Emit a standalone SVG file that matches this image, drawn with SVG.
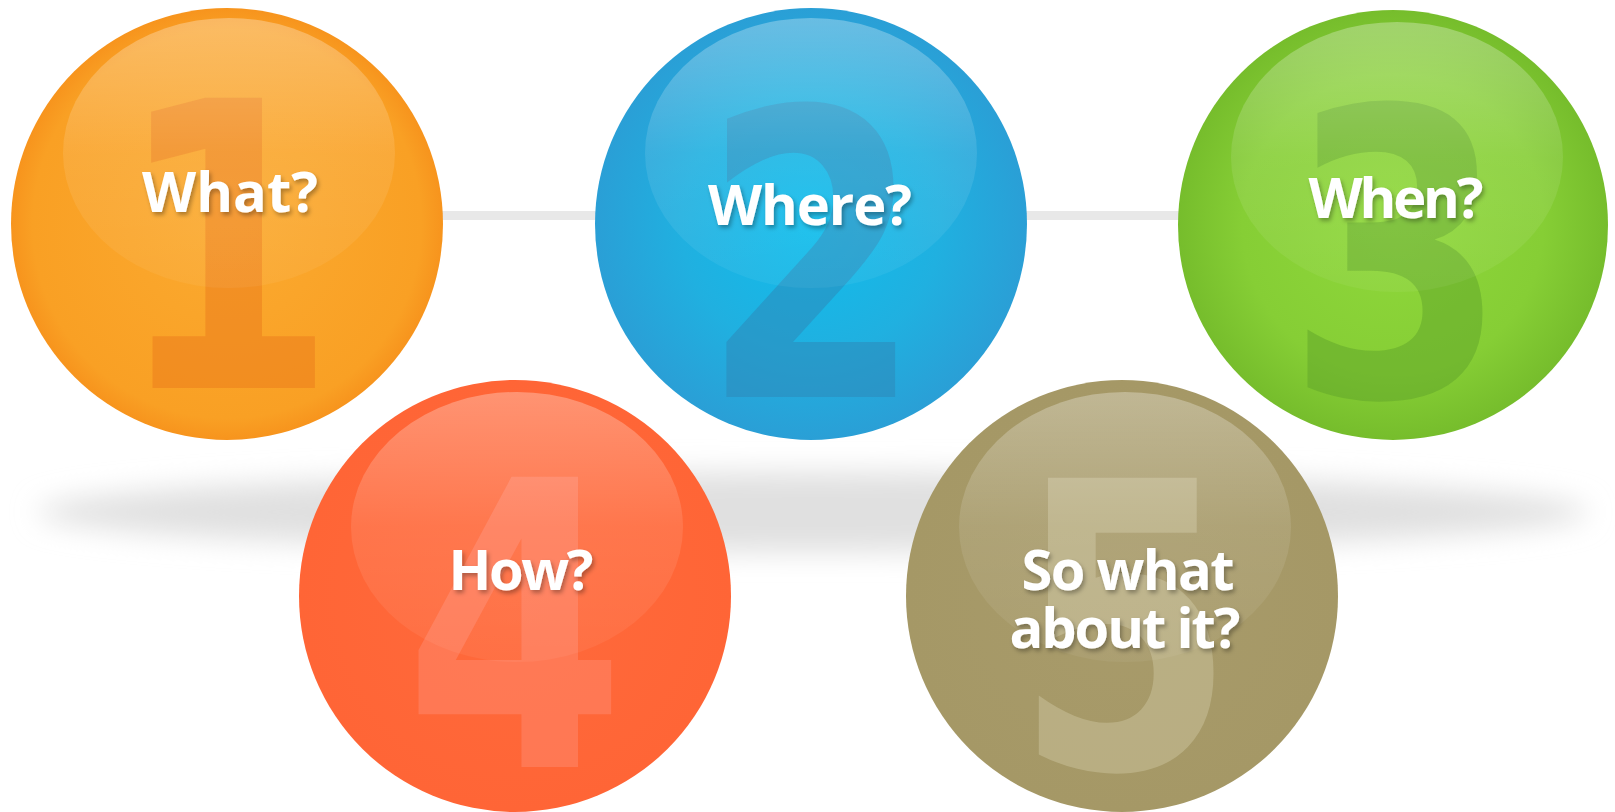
<svg xmlns="http://www.w3.org/2000/svg" width="1615" height="812" viewBox="0 0 1615 812">
<defs>
<filter id="blur" x="-10%" y="-100%" width="120%" height="300%"><feGaussianBlur stdDeviation="14"/></filter>
<filter id="tshadow" x="-20%" y="-40%" width="140%" height="180%"><feDropShadow dx="2" dy="3" stdDeviation="2" flood-color="#000" flood-opacity="0.3"/></filter>
<radialGradient id="gOrange" cx="0.5" cy="0.5" r="0.5"><stop offset="0" stop-color="#FBAA30"/><stop offset="0.9" stop-color="#F9A024"/><stop offset="1" stop-color="#F7941D"/></radialGradient>
<radialGradient id="gBlue" cx="0.5" cy="0.5" r="0.5"><stop offset="0" stop-color="#10BDEC"/><stop offset="0.6" stop-color="#20B0E0"/><stop offset="1" stop-color="#2A9FD6"/></radialGradient>
<radialGradient id="gGreen" cx="0.5" cy="0.5" r="0.5"><stop offset="0" stop-color="#8FD83B"/><stop offset="0.7" stop-color="#86CE35"/><stop offset="1" stop-color="#76BD2C"/></radialGradient>
<radialGradient id="gRed" cx="0.5" cy="0.5" r="0.5"><stop offset="0" stop-color="#FF6A3C"/><stop offset="1" stop-color="#FF6536"/></radialGradient>
<radialGradient id="gOlive" cx="0.5" cy="0.5" r="0.5"><stop offset="0" stop-color="#A89B6B"/><stop offset="1" stop-color="#A59866"/></radialGradient>
<linearGradient id="gHi" x1="0" y1="0" x2="0" y2="1"><stop offset="0" stop-color="#fff" stop-opacity="0.3"/><stop offset="0.5" stop-color="#fff" stop-opacity="0.1"/><stop offset="1" stop-color="#fff" stop-opacity="0.05"/></linearGradient>
</defs>
<style>
.digit{font-family:"DejaVu Sans",sans-serif;font-weight:bold;font-size:398px;text-anchor:middle}
.label{font-family:"Open Sans","Noto Sans",sans-serif;font-weight:bold;font-size:56px;fill:#fff;text-anchor:middle;filter:url(#tshadow)}
.hi{fill:url(#gHi)}
</style>
<rect width="1615" height="812" fill="#fff"/>
<ellipse cx="813" cy="512" rx="775" ry="40" fill="#e0e0e0" filter="url(#blur)"/>
<g id="connectors">
<rect x="227" y="211" width="1166" height="9" fill="#e8e8e8"/>
</g>
<g id="node1">
<circle cx="227" cy="224" r="216" fill="url(#gOrange)"/>
<text class="digit" transform="translate(226,388) scale(0.8,1)" fill="#E8761A" fill-opacity="0.45">1</text>
<ellipse class="hi" cx="229" cy="153" rx="166" ry="135"/>
<text class="label" x="230" y="212" textLength="176" lengthAdjust="spacing">What?</text>
</g>
<g id="node2">
<circle cx="811" cy="224" r="216" fill="url(#gBlue)"/>
<text class="digit" transform="translate(812,397) scale(0.8,1)" fill="#2E85B5" fill-opacity="0.5">2</text>
<ellipse class="hi" cx="811" cy="153" rx="166" ry="135"/>
<text class="label" x="810" y="225" textLength="204" lengthAdjust="spacing">Where?</text>
</g>
<g id="node3">
<circle cx="1393" cy="225" r="215" fill="url(#gGreen)"/>
<text class="digit" transform="translate(1397,396) scale(0.8,1)" fill="#5FA42A" fill-opacity="0.5">3</text>
<ellipse class="hi" cx="1397" cy="157" rx="166" ry="135"/>
<text class="label" x="1396" y="218" textLength="175" lengthAdjust="spacing">When?</text>
</g>
<g id="node4">
<circle cx="515" cy="596" r="216" fill="url(#gRed)"/>
<text class="digit" transform="translate(515,767) scale(0.8,1)" fill="#FF8A70" fill-opacity="0.5">4</text>
<ellipse class="hi" cx="517" cy="527" rx="166" ry="135"/>
<text class="label" x="521" y="590" textLength="145" lengthAdjust="spacing">How?</text>
</g>
<g id="node5">
<circle cx="1122" cy="596" r="216" fill="url(#gOlive)"/>
<text class="digit" transform="translate(1125,768) scale(0.8,1)" fill="#CCC49E" fill-opacity="0.5">5</text>
<ellipse class="hi" cx="1125" cy="527" rx="166" ry="135"/>
<text class="label" x="1128" y="590" textLength="213" lengthAdjust="spacing">So what</text>
<text class="label" x="1125" y="648" textLength="231" lengthAdjust="spacing">about it?</text>
</g>
</svg>
